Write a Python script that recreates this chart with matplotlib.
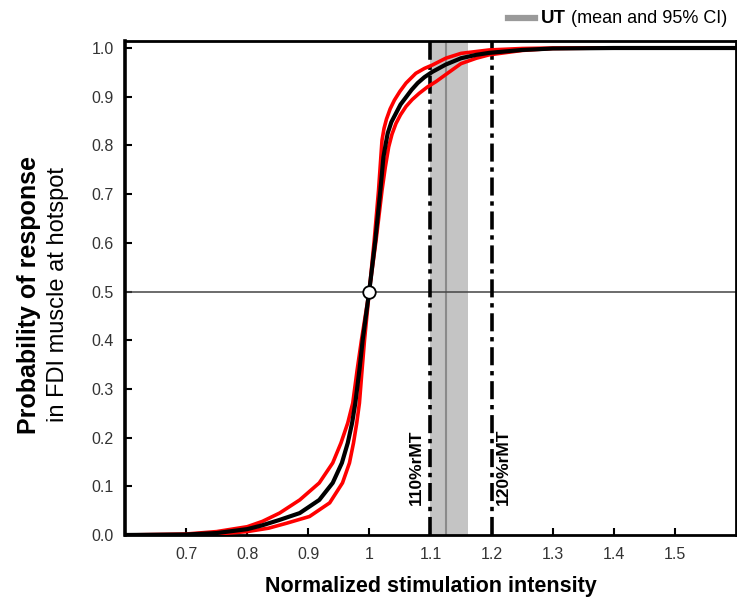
import matplotlib.pyplot as plt
from matplotlib.lines import Line2D

plt.rcParams['font.family'] = ['Liberation Sans', 'DejaVu Sans']

# Stimulation intensity / probability
mean_x = [0.60, 0.70, 0.75, 0.80, 0.825, 0.853, 0.886, 0.918, 0.940, 0.955, 0.9646, 0.9717,
          0.977, 0.9837, 0.989, 1.000, 1.0098, 1.018, 1.023, 1.027, 1.030, 1.036, 1.0435,
          1.051, 1.060, 1.069, 1.079, 1.090, 1.103, 1.125, 1.15, 1.175, 1.196, 1.25, 1.30,
          1.40, 1.60]
mean_y = [0.000, 0.001, 0.004, 0.012, 0.020, 0.031, 0.045, 0.072, 0.107, 0.148, 0.189, 0.230,
          0.271, 0.339, 0.400, 0.503, 0.606, 0.708, 0.776, 0.805, 0.825, 0.848, 0.866,
          0.884, 0.899, 0.914, 0.928, 0.940, 0.951, 0.966, 0.979, 0.986, 0.990, 0.996, 0.999,
          1.000, 1.000]

upper_x = [0.60, 0.70, 0.75, 0.80, 0.825, 0.853, 0.886, 0.918, 0.940, 0.9535, 0.9646, 0.9728,
           0.980, 0.987, 1.000, 1.008, 1.015, 1.0207, 1.024, 1.028, 1.034, 1.041, 1.050,
           1.060, 1.076, 1.090, 1.103, 1.125, 1.15, 1.196, 1.25, 1.30, 1.60]
upper_y = [0.000, 0.002, 0.007, 0.017, 0.028, 0.045, 0.072, 0.107, 0.148, 0.189, 0.230, 0.271,
           0.339, 0.400, 0.503, 0.606, 0.708, 0.811, 0.835, 0.854, 0.875, 0.893, 0.911,
           0.928, 0.948, 0.958, 0.965, 0.979, 0.989, 0.996, 0.999, 1.000, 1.000]

lower_x = [0.60, 0.70, 0.75, 0.80, 0.835, 0.864, 0.902, 0.935, 0.956, 0.9674, 0.974, 0.9793,
           0.9837, 0.988, 0.992, 1.000, 1.011, 1.0207, 1.026, 1.0316, 1.037, 1.0435, 1.051,
           1.060, 1.070, 1.0816, 1.095, 1.109, 1.13, 1.15, 1.175, 1.196, 1.25, 1.30, 1.40, 1.60]
lower_y = [0.000, 0.000, 0.002, 0.007, 0.014, 0.024, 0.038, 0.066, 0.107, 0.148, 0.189, 0.230,
           0.271, 0.339, 0.400, 0.503, 0.606, 0.708, 0.755, 0.797, 0.823, 0.845, 0.863,
           0.880, 0.894, 0.907, 0.920, 0.931, 0.950, 0.968, 0.979, 0.986, 0.995, 0.999, 1.000, 1.000]

ut_mean = 1.126
ut_ci = [1.100, 1.162]
rmt_lines = [1.1, 1.2]
rmt_labels = ['110%rMT', '120%rMT']
x_ticks = [0.7, 0.8, 0.9, 1.0, 1.1, 1.2, 1.3, 1.4, 1.5]
x_tick_labels = ['0.7', '0.8', '0.9', '1', '1.1', '1.2', '1.3', '1.4', '1.5']
y_ticks = [0.0, 0.1, 0.2, 0.3, 0.4, 0.5, 0.6, 0.7, 0.8, 0.9, 1.0]

fig = plt.figure(figsize=(7.37, 6.02), dpi=100)
ax = fig.add_axes([0.1696, 0.1113, 0.8290, 0.8206])

# UT band and mean
ax.axvspan(ut_ci[0], ut_ci[1], color='#c4c4c4', lw=0, zorder=1)
ax.axvline(ut_mean, color='#8a8a8a', lw=1.5, zorder=2)

# threshold line
ax.axhline(0.5, color='#444444', lw=1.1, zorder=2)

# rMT lines
for xv in rmt_lines:
    ax.axvline(xv, color='black', lw=2.6, linestyle=(0, (5, 1.6, 1.2, 1.6)), zorder=3)
ax.text(1.077, 0.14, rmt_labels[0], rotation=90, ha='center', va='center',
        fontsize=12.5, fontweight='bold')
ax.text(1.219, 0.14, rmt_labels[1], rotation=90, ha='center', va='center',
        fontsize=12.5, fontweight='bold')

# curves
ax.plot(upper_x, upper_y, color='#ff0000', lw=2.6, zorder=4, solid_joinstyle='round')
ax.plot(lower_x, lower_y, color='#ff0000', lw=2.6, zorder=4, solid_joinstyle='round')
ax.plot(mean_x, mean_y, color='black', lw=3, zorder=5, solid_joinstyle='round')
ax.plot([1.0], [0.5], marker='o', ms=9, mfc='white', mec='black', mew=1.3, zorder=6)

ax.set_xlim(0.6, 1.6)
ax.set_ylim(0, 1.0144)
ax.set_xticks(x_ticks)
ax.set_xticklabels(x_tick_labels)
ax.set_yticks(y_ticks)
ax.set_yticklabels(['%.1f' % v for v in y_ticks])
ax.tick_params(direction='in', length=5, width=1.5, labelsize=11.5, labelcolor='#333333', pad=8)
ax.tick_params(axis='x', pad=9)
for sp in ax.spines.values():
    sp.set_linewidth(2)
ax.spines['left'].set_linewidth(2.6)

ax.set_xlabel('Normalized stimulation intensity', fontsize=15.5, fontweight='bold', labelpad=10)
fig.text(0.040, 0.51, 'Probability of response', rotation=90, ha='center', va='center',
         fontsize=18, fontweight='bold')
fig.text(0.079, 0.51, 'in FDI muscle at hotspot', rotation=90, ha='center', va='center',
         fontsize=17)

# legend for UT above axes
fig.add_artist(Line2D([508 / 737, 535 / 737], [0.970, 0.970], color='#9a9a9a', lw=4.5))
fig.text(541 / 737, 0.970, 'UT', fontsize=13.5, fontweight='bold', va='center', ha='left')
fig.text(571 / 737, 0.970, '(mean and 95% CI)', fontsize=13, va='center', ha='left')

fig.savefig('out.png', dpi=100)
